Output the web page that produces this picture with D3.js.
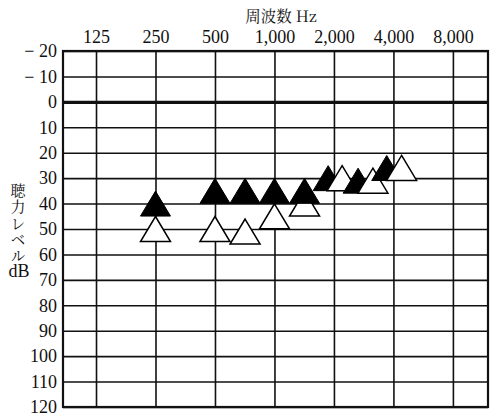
<!DOCTYPE html>
<html><head><meta charset="utf-8">
<script src="https://cdn.jsdelivr.net/npm/d3@7"></script>
<style>
html,body{margin:0;padding:0;background:#fff;}
svg{display:block;}
</style></head>
<body>
<svg id="chart" width="500" height="417"></svg>
<script>
// ---- data ----
const freqTicks = [125, 250, 500, 1000, 2000, 4000, 8000];
const freqTickLabels = ["125", "250", "500", "1,000", "2,000", "4,000", "8,000"];
const dbTicks = [-20, -10, 0, 10, 20, 30, 40, 50, 60, 70, 80, 90, 100, 110, 120];
const filledFreq = [250, 500, 710, 1000, 1420, 1870, 2650, 3700];
const filledDb   = [40, 35, 35, 35, 35, 30, 31, 26];
const openFreq   = [250, 500, 710, 1000, 1420, 2200, 3150, 4400];
const openDb     = [50, 50, 51, 45, 40, 30, 31, 26];
const xTitle = "周波数 Hz";
const yTitle = "聴力レベル";
const yTitleUnit = "dB";

// ---- layout ----
const svg = d3.select("#chart");
const L = 63, R = 488, T = 51, B = 407;
const NUM = "Liberation Serif";
const CJK = "Noto Serif CJK JP";

const x = d3.scaleLog().base(2).domain([125 * Math.pow(2, -0.555), 8000 * Math.pow(2, 0.59)]).range([L, R]);
const y = d3.scaleLinear().domain([-20, 120]).range([T, B]);

// vertical grid via axis
const gx = svg.append("g").attr("transform", `translate(0,${T})`)
  .call(d3.axisTop(x).tickValues(freqTicks).tickSize(-(B - T))
    .tickFormat((d, i) => freqTickLabels[i]).tickPadding(8));
gx.select(".domain").remove();
gx.selectAll(".tick line").attr("stroke", "#111").attr("stroke-width", 1.6);
gx.selectAll(".tick text").attr("font-family", NUM).attr("font-size", 18).attr("fill", "#111");

// horizontal grid via axis
const gy = svg.append("g").attr("transform", `translate(${L},0)`)
  .call(d3.axisLeft(y).tickValues(dbTicks).tickSize(-(R - L))
    .tickFormat(d => d < 0 ? "\u2212 " + Math.abs(d) : String(d)).tickPadding(6));
gy.select(".domain").remove();
gy.selectAll(".tick line").attr("stroke", "#111")
  .attr("stroke-width", d => d === 0 ? 3.4 : 1.6);
gy.selectAll(".tick text").attr("font-family", NUM).attr("font-size", 18).attr("fill", "#111");

// frame
svg.append("rect").attr("x", L).attr("y", T).attr("width", R - L).attr("height", B - T)
  .attr("fill", "none").attr("stroke", "#111").attr("stroke-width", 2.2);

// titles
svg.append("text").attr("x", 281).attr("y", 22).attr("text-anchor", "middle")
  .attr("font-family", CJK).attr("font-size", 15.5).attr("fill", "#111")
  .text(xTitle);
svg.append("text").attr("x", 18).attr("y", 183)
  .attr("font-family", CJK).attr("font-size", 15)
  .style("writing-mode", "vertical-rl")
  .style("letter-spacing", "1.2px").attr("fill", "#111")
  .text(yTitle);
svg.append("text").attr("x", 19).attr("y", 277).attr("text-anchor", "middle")
  .attr("font-family", NUM).attr("font-size", 18).attr("fill", "#111").text(yTitleUnit);

// markers
const pts = [];
openFreq.forEach((f, i) => pts.push({f, db: openDb[i], filled: false}));
filledFreq.forEach((f, i) => pts.push({f, db: filledDb[i], filled: true}));
pts.sort((a, b) => a.f - b.f || (a.filled - b.filled));
const tw = 30, th = 25;
svg.append("g").selectAll("path").data(pts).join("path")
  .attr("d", d => {
    const cx = x(d.f), cy = y(d.db);
    return `M${cx},${cy - th / 2}L${cx + tw / 2},${cy + th / 2}L${cx - tw / 2},${cy + th / 2}Z`;
  })
  .attr("fill", d => d.filled ? "#000" : "#fff")
  .attr("stroke", "#000").attr("stroke-width", d => d.filled ? 1 : 1.5)
  .attr("stroke-linejoin", "miter");
</script>
</body></html>
